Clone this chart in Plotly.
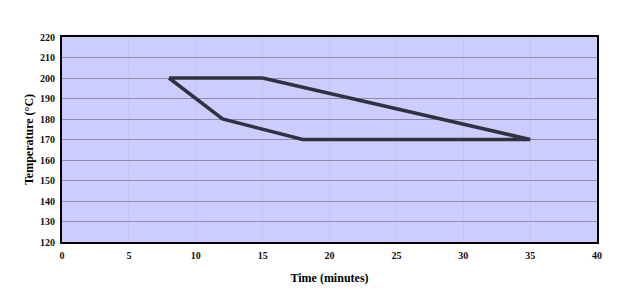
import plotly.graph_objects as go

time_min = [8, 15, 35, 18, 12, 8]
temp_c = [200, 200, 170, 170, 180, 200]

x_ticks = [0, 5, 10, 15, 20, 25, 30, 35, 40]
y_ticks = [120, 130, 140, 150, 160, 170, 180, 190, 200, 210, 220]

fig = go.Figure()
fig.add_trace(go.Scatter(
    x=time_min, y=temp_c, mode="lines",
    line=dict(color="#32323f", width=3.5),
    hoverinfo="skip", showlegend=False,
))

font_family = "Liberation Serif, DejaVu Serif, serif"

fig.update_layout(
    width=622, height=305,
    margin=dict(l=62, r=25, t=37, b=63),
    paper_bgcolor="white",
    plot_bgcolor="#ccccff",
    font=dict(family=font_family, color="black", size=10),
    xaxis=dict(
        range=[0, 40], tickvals=x_ticks, ticktext=[str(v) for v in x_ticks],
        showgrid=True, gridcolor="#c4c4f2", gridwidth=1,
        zeroline=False, showline=True, linecolor="black", linewidth=2, mirror=True,
        ticks="", ticklabelstandoff=3,
        tickfont=dict(family=font_family, size=10, color="#111", weight="bold"),
        title=dict(text="<b>Time (minutes)</b>", font=dict(family=font_family, size=12), standoff=14),
    ),
    yaxis=dict(
        range=[120, 220], tickvals=y_ticks, ticktext=[str(v) for v in y_ticks],
        showgrid=True, gridcolor="#8c8ca6", gridwidth=1,
        zeroline=False, showline=True, linecolor="black", linewidth=2, mirror=True,
        ticks="", ticklabelstandoff=3,
        tickfont=dict(family=font_family, size=10, color="#111", weight="bold"),
        title=dict(text="<b>Temperature (°C)</b>", font=dict(family=font_family, size=12), standoff=4),
    ),
)

fig.write_html("out.html")
